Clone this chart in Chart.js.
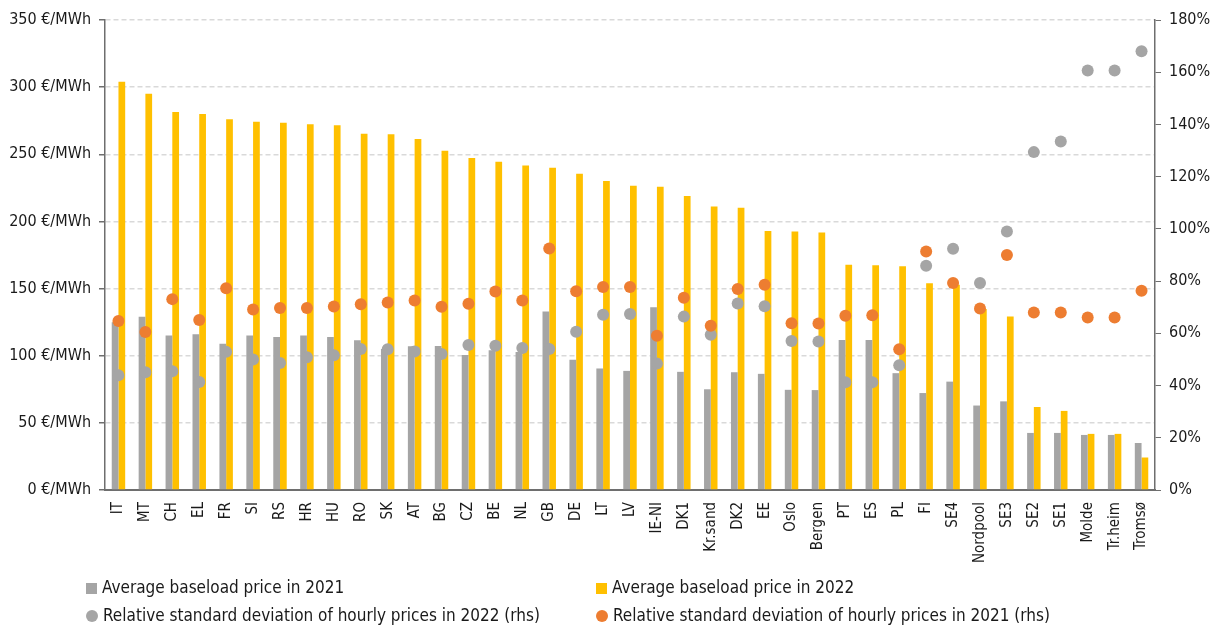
<!DOCTYPE html>
<html>
<head>
<meta charset="utf-8">
<script src="https://cdn.jsdelivr.net/npm/chart.js@4.4.1/dist/chart.umd.min.js"></script>
<style>
    html, body { margin: 0; padding: 0; background: #fff; }
    #wrap { position: relative; width: 1218px; height: 627px; }
    #legend { position: absolute; left: 0; top: 0; width: 1218px; height: 627px; pointer-events: none;
        font-family: "DejaVu Sans Condensed", "DejaVu Sans", sans-serif; font-size: 17px; color: #1a1a1a; }
    .item { position: absolute; white-space: nowrap; line-height: 20px; }
    .mark { display: inline-block; vertical-align: -1px; margin-right: 5px; }
</style>
</head>
<body>
<div id="wrap">
    <canvas id="chart" width="1218" height="627"></canvas>
    <div id="legend"></div>
</div>
<script>
const categories = ["IT", "MT", "CH", "EL", "FR", "SI", "RS", "HR", "HU", "RO", "SK", "AT", "BG", "CZ", "BE", "NL", "GB", "DE", "LT", "LV", "IE-NI", "DK1", "Kr.sand", "DK2", "EE", "Oslo", "Bergen", "PT", "ES", "PL", "FI", "SE4", "Nordpool", "SE3", "SE2", "SE1", "Molde", "Tr.heim", "Tromsø"];

// €/MWh
const price2021 = [125, 129, 115, 116, 109, 115, 114, 115, 114, 111.5, 105, 107, 107.3, 100.6, 104, 102.8, 133, 97, 90.5, 88.7, 136, 88, 75, 87.7, 86.5, 74.6, 74.4, 111.7, 111.7, 87, 72.2, 80.7, 62.9, 66, 42.5, 42.5, 41, 41, 35];
const price2022 = [304, 295, 281.5, 280, 276, 274.3, 273.4, 272.4, 271.6, 265.2, 265, 261.3, 252.6, 247.2, 244.4, 241.7, 240, 235.5, 230.1, 226.6, 225.9, 219, 211.1, 210.1, 192.8, 192.5, 191.8, 167.8, 167.3, 166.6, 154, 152.8, 134.8, 129.2, 61.8, 58.9, 41.8, 41.8, 24.2];

// % (rhs)
const rsd2022 = [43.9, 45.1, 45.5, 41.4, 52.9, 50, 48.6, 50.8, 51.6, 54, 53.9, 53, 52.1, 55.5, 55.2, 54.4, 54, 60.6, 67.1, 67.4, 48.4, 66.4, 59.5, 71.4, 70.4, 57.1, 56.9, 41.3, 41.3, 47.8, 85.9, 92.4, 79.3, 99, 129.4, 133.5, 160.7, 160.7, 168];
const rsd2021 = [64.7, 60.5, 73.1, 65.1, 77.3, 69.1, 69.7, 69.7, 70.3, 71.1, 71.8, 72.6, 70.2, 71.3, 76, 72.6, 92.5, 76.1, 77.7, 77.7, 59.1, 73.6, 62.9, 77, 78.6, 63.9, 63.8, 66.7, 66.9, 53.9, 91.3, 79.3, 69.5, 90, 68, 68, 66.1, 66.1, 76.3];

const priceTicks = [0, 50, 100, 150, 200, 250, 300, 350];
const pctTicks = [0, 20, 40, 60, 80, 100, 120, 140, 160, 180];

const grey = "#a5a5a5";
const yellow = "#ffc000";
const orange = "#ed7d31";
const axisColor = "#6e6e6e";
const textColor = "#1a1a1a";
const font = "'DejaVu Sans Condensed', 'DejaVu Sans', sans-serif";

const ctx = document.getElementById("chart").getContext("2d");

const chart = new Chart(ctx, {
    data: {
        labels: categories,
        datasets: [
            { type: "bar", label: "Average baseload price in 2021", data: price2021, backgroundColor: grey,
              yAxisID: "y", order: 3, categoryPercentage: 0.5, barPercentage: 1.0, mark: "square" },
            { type: "bar", label: "Average baseload price in 2022", data: price2022, backgroundColor: yellow,
              yAxisID: "y", order: 3, categoryPercentage: 0.5, barPercentage: 1.0, mark: "square" },
            { type: "line", label: "Relative standard deviation of hourly prices in 2022 (rhs)", data: rsd2022,
              showLine: false, pointRadius: 6, pointHoverRadius: 6, backgroundColor: grey, borderColor: grey,
              pointBorderWidth: 0, yAxisID: "y1", order: 2, mark: "circle" },
            { type: "line", label: "Relative standard deviation of hourly prices in 2021 (rhs)", data: rsd2021,
              showLine: false, pointRadius: 6, pointHoverRadius: 6, backgroundColor: orange, borderColor: orange,
              pointBorderWidth: 0, yAxisID: "y1", order: 1, mark: "circle" }
        ]
    },
    options: {
        responsive: false,
        animation: false,
        layout: { padding: { top: 20, bottom: 57, left: 0, right: 0 } },
        plugins: { legend: { display: false }, tooltip: { enabled: false } },
        scales: {
            x: {
                grid: { display: false },
                border: { display: true, color: axisColor, width: 2 },
                ticks: { color: textColor, font: { family: font, size: 15 }, minRotation: 90, maxRotation: 90, autoSkip: false, padding: 4 },
                afterFit: scale => { scale.height = 80; }
            },
            y: {
                position: "left",
                min: 0, max: 350,
                afterBuildTicks: scale => { scale.ticks = priceTicks.map(v => ({ value: v })); },
                grid: { color: "#d9d9d9", lineWidth: 1.5, tickColor: axisColor, tickLength: 6, tickBorderDash: [] },
                border: { display: true, color: axisColor, width: 1.5, dash: [5, 3] },
                ticks: { color: textColor, font: { family: font, size: 16 }, padding: 8,
                         callback: v => v + " €/MWh" },
                afterFit: scale => { scale.width = 105; }
            },
            y1: {
                position: "right",
                min: 0, max: 180,
                afterBuildTicks: scale => { scale.ticks = pctTicks.map(v => ({ value: v })); },
                grid: { drawOnChartArea: false, tickColor: axisColor, tickLength: 6 },
                border: { display: true, color: axisColor, width: 1.5 },
                ticks: { color: textColor, font: { family: font, size: 16 }, padding: 8,
                         callback: v => v + "%" },
                afterFit: scale => { scale.width = 63; }
            }
        }
    }
});

// legend in two columns, built from the datasets
const legend = document.getElementById("legend");
const spots = [[86, 577], [596, 577], [86, 605], [596, 605]];
chart.data.datasets.forEach((ds, i) => {
    const item = document.createElement("div");
    item.className = "item";
    item.style.left = spots[i][0] + "px";
    item.style.top = spots[i][1] + "px";
    const mark = document.createElement("span");
    mark.className = "mark";
    if (ds.mark === "square") {
        mark.style.width = "11px";
        mark.style.height = "11px";
    } else {
        mark.style.width = "12px";
        mark.style.height = "12px";
        mark.style.borderRadius = "50%";
    }
    mark.style.background = ds.backgroundColor;
    item.appendChild(mark);
    item.appendChild(document.createTextNode(ds.label));
    legend.appendChild(item);
});
</script>
</body>
</html>
